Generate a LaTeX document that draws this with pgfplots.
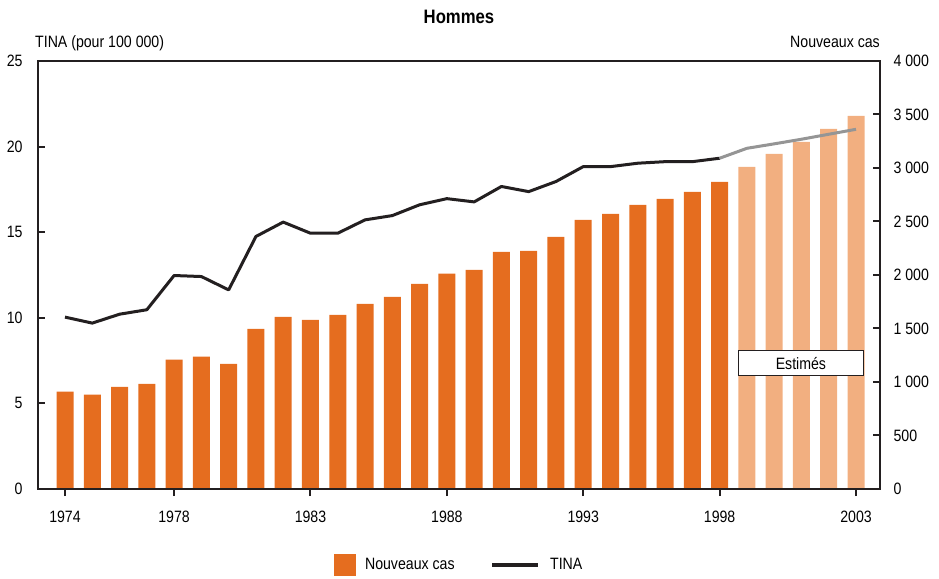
\documentclass[border=0pt]{standalone}
\usepackage{pgfplots}
\pgfplotsset{compat=1.18}
\usepackage{pgfplotstable}
\usepackage{fontspec}
\setmainfont{Liberation Sans}[FakeStretch=0.86]
\definecolor{cas}{HTML}{E56D1F}
\definecolor{casest}{HTML}{F2AF80}
\definecolor{tina}{HTML}{231F20}
\definecolor{tinaest}{HTML}{959595}

\pgfplotstableread{
year cases
1974 909
1975 881
1976 955
1977 983
1978 1208
1979 1236
1980 1170
1981 1497
1982 1609
1983 1581
1984 1628
1985 1731
1986 1796
1987 1918
1988 2012
1989 2049
1990 2217
1991 2226
1992 2356
1993 2515
1994 2571
1995 2655
1996 2711
1997 2776
1998 2870
}\cas
\pgfplotstableread{
year cases
1999 3010
2000 3131
2001 3243
2002 3365
2003 3487
}\casest

\begin{document}
\begin{tikzpicture}[font=\fontsize{16.5}{19}\selectfont]
\pgfplotsset{
  common/.style={width=842bp, height=428bp, scale only axis,
    xmin=1973.01, xmax=2003.88,
    tick style={line width=2bp, tina}, major tick length=7bp,
    /pgf/number format/assume math mode=true},
}
% bars, right axis
\begin{axis}[common, name=ax,
  ymin=0, ymax=4000,
  axis line style={line width=2.2bp, tina},
  xtick=\empty,
  ytick={0,500,...,4000},
  yticklabels={0,500,1 000,1 500,2 000,2 500,3 000,3 500,4 000},
  ytick pos=right, yticklabel pos=right, tick align=inside,
  yticklabel style={xshift=10bp},
]
\addplot[ybar, bar width=17bp, bar shift=0pt, fill=cas, draw=none] table[x=year,y=cases]{\cas};
\addplot[ybar, bar width=17bp, bar shift=0pt, fill=casest, draw=none] table[x=year,y=cases]{\casest};
\end{axis}
% line, left axis
\begin{axis}[common,
  ymin=0, ymax=25,
  hide x axis, axis y line*=left,
  axis line style={line width=2.2bp, tina},
  ytick={0,5,...,25}, tick align=inside,
  yticklabel style={xshift=-12bp},
]
\addplot[tina, line width=3bp, line join=round] coordinates {
(1974,10.04)(1975,9.69)(1976,10.21)(1977,10.47)(1978,12.47)(1979,12.41)
(1980,11.63)(1981,14.75)(1982,15.59)(1983,14.94)(1984,14.94)(1985,15.72)
(1986,15.97)(1987,16.60)(1988,16.96)(1989,16.77)(1990,17.67)(1991,17.37)
(1992,17.96)(1993,18.83)(1994,18.83)(1995,19.03)(1996,19.12)(1997,19.12)
(1998,19.32)};
\addplot[tinaest, line width=3bp, line join=round] coordinates {
(1998,19.32)(1999,19.90)(2000,20.16)(2001,20.43)(2002,20.72)(2003,21.01)};
\node[draw=tina, line width=1.4bp, fill=white, minimum width=125bp,
  minimum height=25bp, inner sep=0pt] at (axis cs:2000.98,7.35) {Estimés};
\end{axis}
% x axis, titles, legend
\begin{axis}[common, clip=false,
  ymin=0, ymax=1,
  hide y axis, axis x line*=bottom,
  axis line style={line width=2.2bp, tina},
  xtick={1974,1978,1983,1988,1993,1998,2003},
  xticklabels={1974,1978,1983,1988,1993,1998,2003},
  tick align=outside,
  xticklabel style={yshift=-12bp},
  legend style={at={(0.5,-0.1776)}, anchor=center, draw=none, fill=none,
    /tikz/every odd column/.append style={column sep=8bp},
    /tikz/every even column/.append style={column sep=34bp}},
  legend columns=2,
]
\addlegendimage{legend image code/.code={\fill[cas] (0bp,-10.5bp) rectangle (21bp,10.5bp);}}
\addlegendentry{Nouveaux cas}
\addlegendimage{legend image code/.code={\draw[tina, line width=3.5bp] (0bp,0bp) -- (46bp,0bp);}}
\addlegendentry{TINA}
\node[font=\bfseries\fontsize{19.5}{22}\selectfont, anchor=base] at (rel axis cs:0.5,1) [yshift=37bp] {Hommes};
\node[anchor=base west, inner sep=0pt] at (rel axis cs:0,1) [xshift=-3bp, yshift=13bp] {TINA (pour 100 000)};
\node[anchor=base east, inner sep=0pt] at (rel axis cs:1,1) [yshift=13bp] {Nouveaux cas};
\end{axis}
\pgfresetboundingbox
\path ([shift={(-38bp,-90bp)}]ax.south west) rectangle ([shift={(59bp,61bp)}]ax.north east);
\end{tikzpicture}
\end{document}
